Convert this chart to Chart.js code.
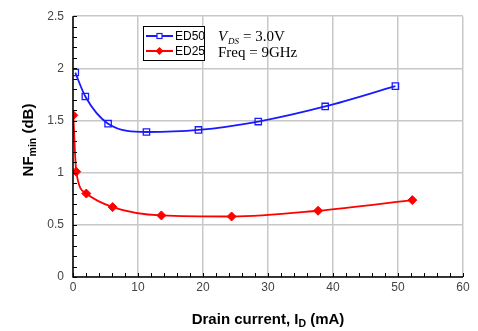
<!DOCTYPE html>
<html>
<head>
<meta charset="utf-8">
<script src="https://cdn.jsdelivr.net/npm/chart.js@4/dist/chart.umd.min.js"></script>
<style>
  html, body { margin: 0; padding: 0; background: #fff; }
  #wrap { width: 478px; height: 331px; }
</style>
</head>
<body>
<div id="wrap"><canvas id="nfChart"></canvas></div>
<script>
// drain current (mA) and NFmin (dB)
const ed50Current = [0.35, 1.9, 5.4, 11.3, 19.3, 28.5, 38.8, 49.6];
const ed50Nf = [1.96, 1.73, 1.47, 1.39, 1.41, 1.49, 1.635, 1.83];

const ed25Current = [0.05, 0.5, 2.05, 6.1, 13.6, 24.4, 37.7, 52.2];
const ed25Nf = [1.55, 1.01, 0.80, 0.67, 0.59, 0.58, 0.635, 0.737];

const xTicks = [0, 10, 20, 30, 40, 50, 60];
const yTicks = [0, 0.5, 1, 1.5, 2, 2.5];

const blue = "#1a1aff";
const red = "#ff0000";
const sans = "'Liberation Sans', Arial, sans-serif";

function points(xs, ys) {
    return xs.map((x, i) => ({ x: x, y: ys[i] }));
}

// text with a subscript part, drawn from x along the baseline
function subText(ctx, parts, x, y, size) {
    let w = 0;
    parts.forEach(p => {
        ctx.font = "bold " + (p.sub ? size * 0.7 : size) + "px " + sans;
        w += ctx.measureText(p.t).width;
    });
    let cx = x - w / 2;
    parts.forEach(p => {
        ctx.font = "bold " + (p.sub ? size * 0.7 : size) + "px " + sans;
        ctx.fillText(p.t, cx, p.sub ? y + 3 : y);
        cx += ctx.measureText(p.t).width;
    });
}

// inside tick marks, legend box, annotation text and axis titles
const decorations = {
    id: "decorations",
    afterDraw(chart) {
        const ctx = chart.ctx;
        const area = chart.chartArea;
        const xs = chart.scales.x;
        const ys = chart.scales.y;
        ctx.save();

        // axis lines
        ctx.strokeStyle = "#000";
        ctx.lineWidth = 1.5;
        ctx.beginPath();
        ctx.moveTo(area.left, area.top);
        ctx.lineTo(area.left, area.bottom);
        ctx.lineTo(area.right, area.bottom);
        ctx.stroke();

        ctx.lineWidth = 1;
        ctx.beginPath();
        for (let v = 0; v <= 2.5001; v += 0.1) {
            const py = Math.round(ys.getPixelForValue(v)) + 0.5;
            ctx.moveTo(area.left, py);
            ctx.lineTo(area.left + 4, py);
        }
        for (let v = 0; v <= 60; v += 2) {
            const px = Math.round(xs.getPixelForValue(v)) + 0.5;
            ctx.moveTo(px, area.bottom);
            ctx.lineTo(px, area.bottom - 4);
        }
        ctx.stroke();

        // legend box
        const lx = 143, ly = 26, lw = 61, lh = 34;
        ctx.fillStyle = "#fff";
        ctx.fillRect(lx, ly, lw, lh);
        ctx.strokeStyle = "#000";
        ctx.lineWidth = 1;
        ctx.strokeRect(lx + 0.5, ly + 0.5, lw, lh);

        const rows = [
            { label: "ED50", color: blue, y: ly + 10, square: true },
            { label: "ED25", color: red, y: ly + 25, square: false }
        ];
        rows.forEach(r => {
            ctx.strokeStyle = r.color;
            ctx.lineWidth = 2;
            ctx.beginPath();
            ctx.moveTo(lx + 3, r.y);
            ctx.lineTo(lx + 30, r.y);
            ctx.stroke();
            if (r.square) {
                ctx.fillStyle = "#fff";
                ctx.lineWidth = 1.2;
                ctx.fillRect(lx + 14, r.y - 2.5, 5, 5);
                ctx.strokeRect(lx + 14, r.y - 2.5, 5, 5);
            } else {
                ctx.fillStyle = r.color;
                ctx.beginPath();
                ctx.moveTo(lx + 16.5, r.y - 4);
                ctx.lineTo(lx + 20.5, r.y);
                ctx.lineTo(lx + 16.5, r.y + 4);
                ctx.lineTo(lx + 12.5, r.y);
                ctx.closePath();
                ctx.fill();
            }
            ctx.fillStyle = "#000";
            ctx.font = "12px " + sans;
            ctx.textAlign = "left";
            ctx.textBaseline = "middle";
            ctx.fillText(r.label, lx + 32, r.y + 1);
        });

        // bias annotation
        ctx.fillStyle = "#000";
        ctx.textBaseline = "alphabetic";
        ctx.font = "italic 15px 'Liberation Serif', 'Times New Roman', serif";
        ctx.fillText("V", 218, 41);
        ctx.font = "italic 9px 'Liberation Serif', 'Times New Roman', serif";
        ctx.fillText("DS", 228, 44);
        ctx.font = "15px 'Liberation Serif', 'Times New Roman', serif";
        ctx.fillText("= 3.0V", 243, 41);
        ctx.fillText("Freq = 9GHz", 218, 57);

        // axis titles
        subText(ctx, [{ t: "Drain current, I" }, { t: "D", sub: true }, { t: " (mA)" }],
            (area.left + area.right) / 2, 324, 15);

        ctx.translate(33, 140);
        ctx.rotate(-Math.PI / 2);
        subText(ctx, [{ t: "NF" }, { t: "min", sub: true }, { t: " (dB)" }], 0, 0, 15);

        ctx.restore();
    }
};

new Chart(document.getElementById("nfChart"), {
    type: "line",
    data: {
        datasets: [
            {
                label: "ED50",
                data: points(ed50Current, ed50Nf),
                borderColor: blue,
                backgroundColor: "#fff",
                borderWidth: 1.8,
                pointStyle: "rect",
                pointRadius: 4.5,
                pointBorderWidth: 1.3,
                pointBackgroundColor: "rgba(255,255,255,0)",
                cubicInterpolationMode: "monotone"
            },
            {
                label: "ED25",
                data: points(ed25Current, ed25Nf),
                borderColor: red,
                backgroundColor: red,
                borderWidth: 1.8,
                pointStyle: "rectRot",
                pointRadius: 4.5,
                pointBorderWidth: 1,
                pointBackgroundColor: red,
                cubicInterpolationMode: "monotone"
            }
        ]
    },
    options: {
        responsive: true,
        maintainAspectRatio: false,
        animation: false,
        layout: { padding: { top: 14, right: 15, left: 0, bottom: 0 } },
        plugins: {
            legend: { display: false },
            tooltip: { enabled: false }
        },
        scales: {
            x: {
                type: "linear",
                min: 0,
                max: 60,
                afterBuildTicks: s => { s.ticks = xTicks.map(v => ({ value: v })); },
                afterFit: s => { s.height = 54; },
                grid: { color: "#c8c8c8", lineWidth: 1.5, drawTicks: false },
                border: { display: false },
                ticks: {
                    padding: 3,
                    color: "#444",
                    callback: v => String(v),
                    font: { family: sans, size: 12 }
                }
            },
            y: {
                type: "linear",
                min: 0,
                max: 2.5,
                afterBuildTicks: s => { s.ticks = yTicks.map(v => ({ value: v })); },
                afterFit: s => { s.width = 73; },
                grid: { color: "#c8c8c8", lineWidth: 1.5, drawTicks: false },
                border: { display: false },
                ticks: {
                    padding: 9,
                    color: "#444",
                    callback: v => String(v),
                    font: { family: sans, size: 12 }
                }
            }
        }
    },
    plugins: [decorations]
});
</script>
</body>
</html>
